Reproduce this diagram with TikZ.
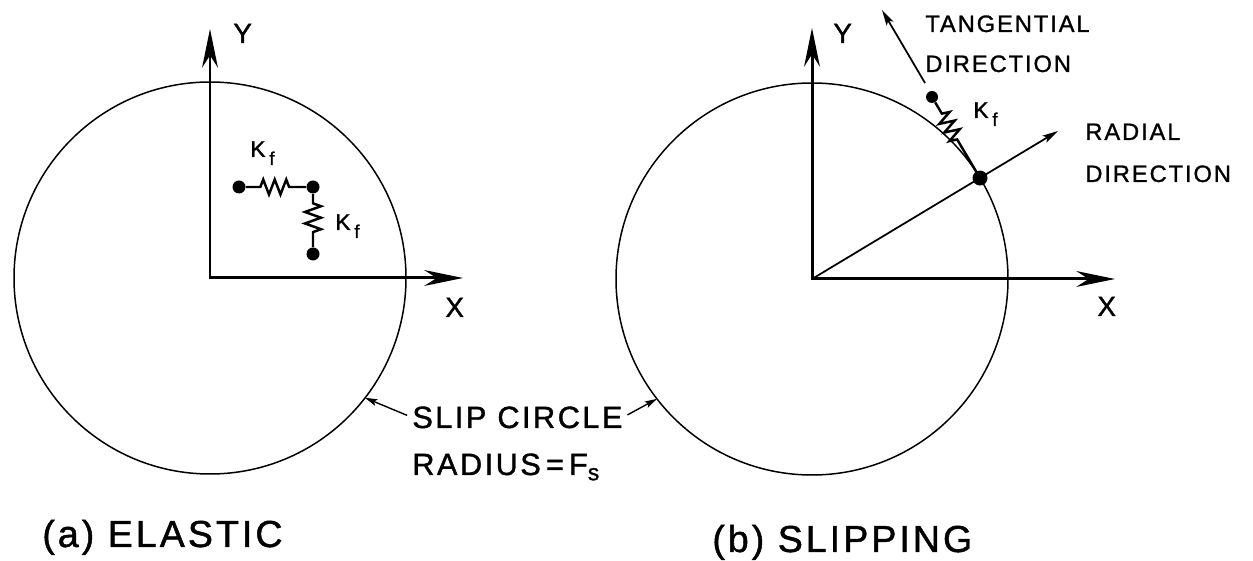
\documentclass[tikz,border=0pt]{standalone}
\usepackage{fontspec}
\newfontfamily\lettering[LetterSpace=8,FakeBold=1.2]{Liberation Sans}
\usetikzlibrary{arrows.meta,decorations.pathmorphing,calc}

\newcommand{\Kf}{K\,\raisebox{-4.5pt}{\fontsize{10.5}{11}\selectfont f}}
\newcommand{\Fs}{F\raisebox{-3pt}{\fontsize{13}{13}\selectfont s}}

\begin{document}
\begin{tikzpicture}[
    x=0.2mm, y=0.2mm,
    >=Stealth,
    rim/.style={line width=0.85pt},
    axis/.style={line width=1.7pt, line join=miter,
      {Stealth[length=22pt,width=9pt,inset=7pt]}-{Stealth[length=22pt,width=9pt,inset=7pt]}},
    arr/.style={line width=1pt, -{Stealth[length=9pt,width=4.5pt,inset=2pt]}},
    sarr/.style={line width=0.8pt, shorten <=3pt, -{Stealth[length=7pt,width=4pt,inset=1.5pt]}},
    dotnode/.style={circle, fill=black, inner sep=0pt, minimum size=#1},
    dotnode/.default=2.6mm,
    spring/.style n args={4}{line width=1.4pt, decorate,
      decoration={zigzag, segment length=#3, amplitude=#4, pre length=#1, post length=#2}},
    axlabel/.style={anchor=base west, inner sep=0pt, font=\lettering\fontsize{15.9}{18}\selectfont},
    klabel/.style={anchor=base west, inner sep=0pt, font=\lettering\fontsize{13}{15}\selectfont},
    dirlabel/.style={anchor=base west, inner sep=0pt, font=\lettering\fontsize{13.5}{16}\selectfont},
    sliplabel/.style={anchor=base west, inner sep=0pt, font=\lettering\fontsize{17.5}{20}\selectfont},
    caption/.style={anchor=base west, inner sep=0pt, font=\lettering\fontsize{21.4}{24}\selectfont},
]
\useasboundingbox (0,0) rectangle (1253,561);

% ============ (a) ELASTIC ============
\coordinate (O1) at (210,283);
\coordinate (y1tip) at (210,532);
\coordinate (x1tip) at (463,283);
\draw[rim] (O1) circle (196);
\draw[axis] (y1tip) -- (O1) -- (x1tip);
\node[axlabel] (ya) at (233,518) {Y};
\node[axlabel] (xa) at (445,244) {X};

\node[dotnode] (sa) at (239,374) {};
\node[dotnode] (sb) at (313,374) {};
\node[dotnode] (sc) at (313,307) {};
\draw[spring={2.9mm}{2.3mm}{2.3mm}{1.5mm}] (sa) -- (sb);
\draw[spring={1.9mm}{2.1mm}{2.3mm}{1.6mm}] (sb) -- (sc);
\node[klabel] (kh) at (250,404) {\Kf};
\node[klabel] (kv) at (335,331) {\Kf};

% ============ (b) SLIPPING ============
\coordinate (O2) at (812,282);
\coordinate (y2tip) at (812,533);
\coordinate (x2tip) at (1115,282);
\draw[rim] (O2) circle (196);
\draw[axis] (y2tip) -- (O2) -- (x2tip);
\node[axlabel] (yb) at (833,518) {Y};
\node[axlabel] (xb) at (1097,245) {X};

\node[dotnode=3mm] (sp) at ($(O2)+(31:196)$) {};
\coordinate (radtip) at (1058,430);
\draw[arr] (O2) -- (radtip);
\node[dotnode=2.4mm] (sq) at (932,464) {};
\draw[spring={2.6mm}{7mm}{2mm}{1.5mm}] (sq) -- (sp);
\node[klabel] (ks) at (973,443) {\Kf};

\coordinate (tanfoot) at (925,478);
\coordinate (tantip) at (882,551);
\draw[arr] (tanfoot) -- (tantip);
\node[dirlabel] (tang) at (925,529) {TANGENTIAL};
\node[dirlabel] (tangdir) at (925,489) {DIRECTION};
\node[dirlabel] (radl) at (1085,421) {RADIAL};
\node[dirlabel] (raddir) at (1085,379) {DIRECTION};

% ============ SLIP CIRCLE ============
\node[sliplabel] (slip) at (412,133) {SLIP CIRCLE};
\node[sliplabel] (radtext) at (412,86) {RADIUS\,=\,\Fs};
\coordinate (c1) at ($(O1)+(-37.7:196)$);
\coordinate (c2) at ($(O2)+(217.7:196)$);
\draw[sarr] (slip.west) -- (c1);
\draw[sarr] (slip.east) -- (c2);

% ============ CAPTIONS ============
\node[caption] (capa) at (42,14) {(a) ELASTIC};
\node[caption] (capb) at (712,9) {(b) SLIPPING};

\end{tikzpicture}
\end{document}
